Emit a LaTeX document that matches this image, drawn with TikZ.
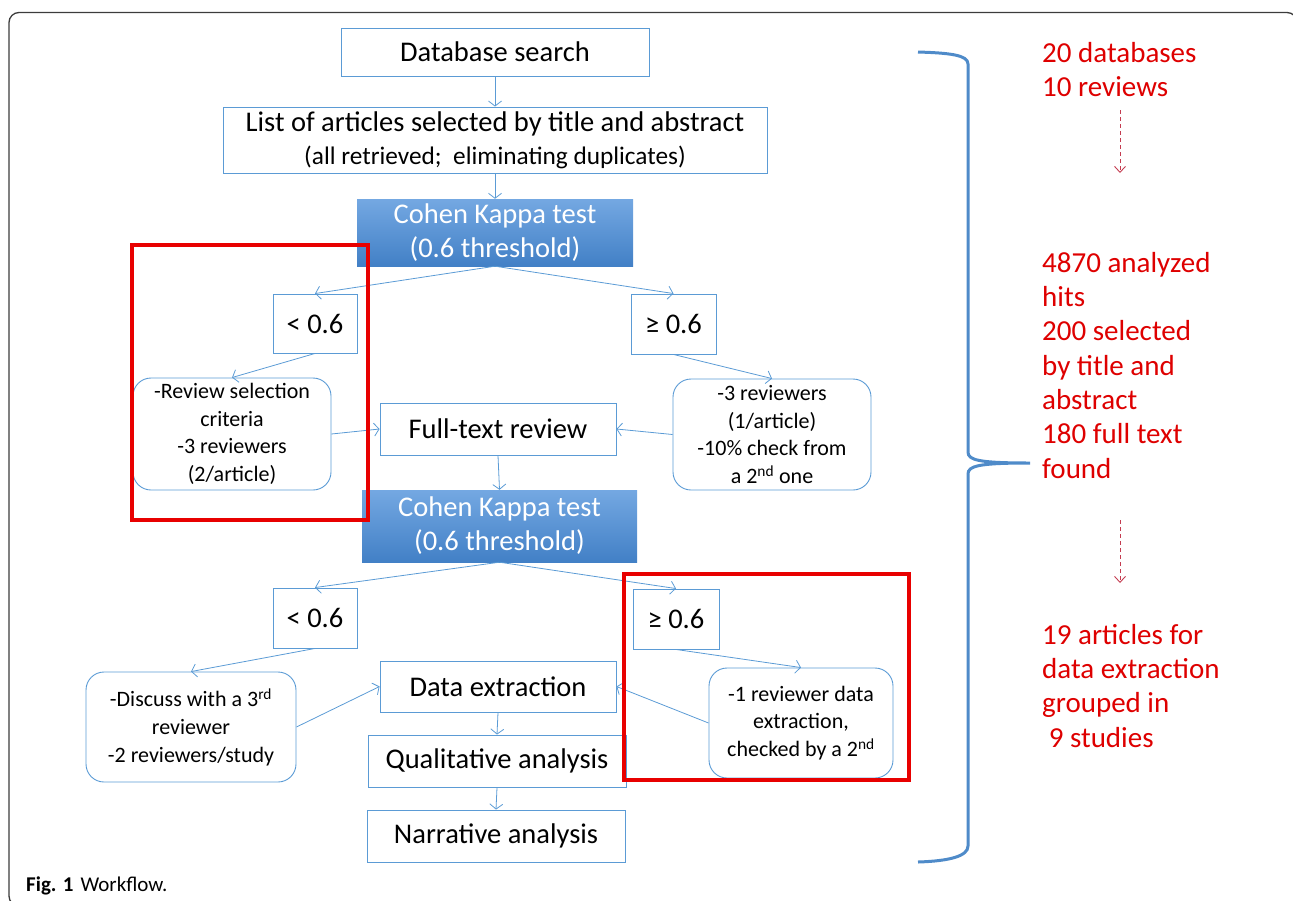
\documentclass[tikz,border=0pt]{standalone}
\usepackage{fontspec}
\setmainfont{Carlito}
\usetikzlibrary{arrows.meta}
\definecolor{boxblue}{RGB}{91,155,213}
\definecolor{bracketblue}{RGB}{79,139,201}
\definecolor{kappatop}{RGB}{116,168,226}
\definecolor{kappabottom}{RGB}{66,128,198}
\definecolor{markred}{RGB}{232,0,0}
\definecolor{notered}{RGB}{222,0,0}
\definecolor{hintred}{RGB}{196,60,80}
\definecolor{framegray}{RGB}{60,60,60}

\begin{document}
\begin{tikzpicture}[x=1pt,y=-1pt,
    box/.style={draw=boxblue,line width=0.9pt,inner sep=0pt,align=center,font=\fontsize{28.5}{34}\selectfont},
    kappa/.style={top color=kappatop,bottom color=kappabottom,inner sep=0pt,align=center,text=white,font=\fontsize{28.5}{34}\selectfont},
    note/.style={draw=boxblue,line width=0.9pt,rounded corners=18pt,inner sep=0pt,align=center,font=\fontsize{22}{27.7}\selectfont},
    link/.style={draw=boxblue,line width=0.8pt,-{Straight Barb[length=5pt,width=13pt]}},
    tally/.style={text=notered,anchor=north west,inner sep=0pt,align=left,font=\fontsize{29}{34.3}\selectfont},
    hint/.style={draw=hintred,line width=0.9pt,dash pattern=on 4pt off 3pt,-{Straight Barb[length=6pt,width=11pt]}}]
    \useasboundingbox (0,0) rectangle (1293,900);
    \clip (0,0) rectangle (1293,900);
    \draw[framegray,line width=1.3pt,rounded corners=10pt] (9,12.5) rectangle (1297,906);

    \node[box,minimum width=308pt,minimum height=48pt] (db) at (495,52) {Database search};
    \node[box,minimum width=544pt,minimum height=66pt,font=\fontsize{28.5}{33}\selectfont] (list) at (495,140)
        {List of articles selected by title and abstract\\{\fontsize{25.3}{33}\selectfont (all retrieved;\ \ eliminating duplicates)}};
    \node[kappa,minimum width=276pt,minimum height=67pt] (ck1) at (495,232.5) {Cohen Kappa test\\(0.6 threshold)};
    \node[box,minimum width=84pt,minimum height=59pt] (lt1) at (315,323.5) {< 0.6};
    \node[box,minimum width=85pt,minimum height=60pt] (ge1) at (673.5,324) {≥ 0.6};
    \node[note,minimum width=198pt,minimum height=112pt] (rv1) at (232,434) {-Review selection\\criteria\\-3 reviewers\\(2/article)};
    \node[box,minimum width=236pt,minimum height=52pt] (ft) at (498,429) {Full-text review};
    \node[note,minimum width=198pt,minimum height=111pt] (rv2) at (772,434.5) {-3 reviewers\\(1/article)\\-10\% check from\\a 2\textsuperscript{nd} one};
    \node[kappa,minimum width=275pt,minimum height=72pt] (ck2) at (499.5,526) {Cohen Kappa test\\(0.6 threshold)};
    \node[box,minimum width=84pt,minimum height=60pt] (lt2) at (315,618) {< 0.6};
    \node[box,minimum width=86pt,minimum height=60pt] (ge2) at (676,619) {≥ 0.6};
    \node[note,minimum width=210pt,minimum height=110pt] (rv3) at (191,727) {-Discuss with a 3\textsuperscript{rd}\\reviewer\\-2 reviewers/study};
    \node[box,minimum width=236pt,minimum height=51pt] (de) at (498,686.5) {Data extraction};
    \node[note,minimum width=184pt,minimum height=110pt] (rv4) at (801,723) {-1 reviewer data\\extraction,\\checked by a 2\textsuperscript{nd}};
    \node[box,minimum width=258pt,minimum height=52pt] (qa) at (497,761) {Qualitative analysis};
    \node[box,minimum width=258pt,minimum height=52pt] (na) at (496,836) {Narrative analysis};

    \draw[link] (db.south) -- (list.north);
    \draw[link] (list.south) -- (ck1.north);
    \draw[link] (ck1.south) -- (lt1.north);
    \draw[link] (ck1.south) -- (ge1.north);
    \draw[link] (lt1.south) -- (rv1.north);
    \draw[link] (ge1.south) -- (rv2.north);
    \draw[link] (rv1.east) -- (ft.west);
    \draw[link] (rv2.west) -- (ft.east);
    \draw[link] (ft.south) -- (ck2.north);
    \draw[link] (ck2.south) -- (lt2.north);
    \draw[link] (ck2.south) -- (ge2.north);
    \draw[link] (lt2.south) -- (rv3.north);
    \draw[link] (ge2.south) -- (rv4.north);
    \draw[link] (rv3.east) -- (de.west);
    \draw[link] (rv4.west) -- (de.east);
    \draw[link] (de.south) -- (qa.north);
    \draw[link] (qa.south) -- (na.north);

    \draw[markred,line width=4pt] (132,245) rectangle (368,520);
    \draw[markred,line width=4pt] (624,574) rectangle (909,780);

    \draw[bracketblue,line width=3pt] (918,52) .. controls (950,53) and (968,55) .. (968,64) -- (968,452)
        .. controls (968,460) and (978,463) .. (1030,463)
        .. controls (978,463) and (968,466) .. (968,474) -- (968,846)
        .. controls (968,856) and (950,861) .. (918,862);

    \node[tally] (src) at (1042,42) {20 databases\\10 reviews};
    \node[tally] (hits) at (1042,252) {4870 analyzed\\hits\\200 selected\\by title and\\abstract\\180 full text\\found};
    \node[tally] (final) at (1042,624) {19 articles for\\data extraction\\grouped in\\\ 9 studies};
    \coordinate (h1s) at (1120,110);
    \coordinate (h1e) at (1120,173);
    \coordinate (h2s) at (1120,520);
    \coordinate (h2e) at (1120,583);
    \draw[hint] (h1s) -- (h1e);
    \draw[hint] (h2s) -- (h2e);

    \node[anchor=west,inner sep=0pt,font=\fontsize{21}{24}\selectfont] (cap) at (26,886) {\textbf{Fig. 1}\hspace{7pt}Workflow.};
\end{tikzpicture}
\end{document}
